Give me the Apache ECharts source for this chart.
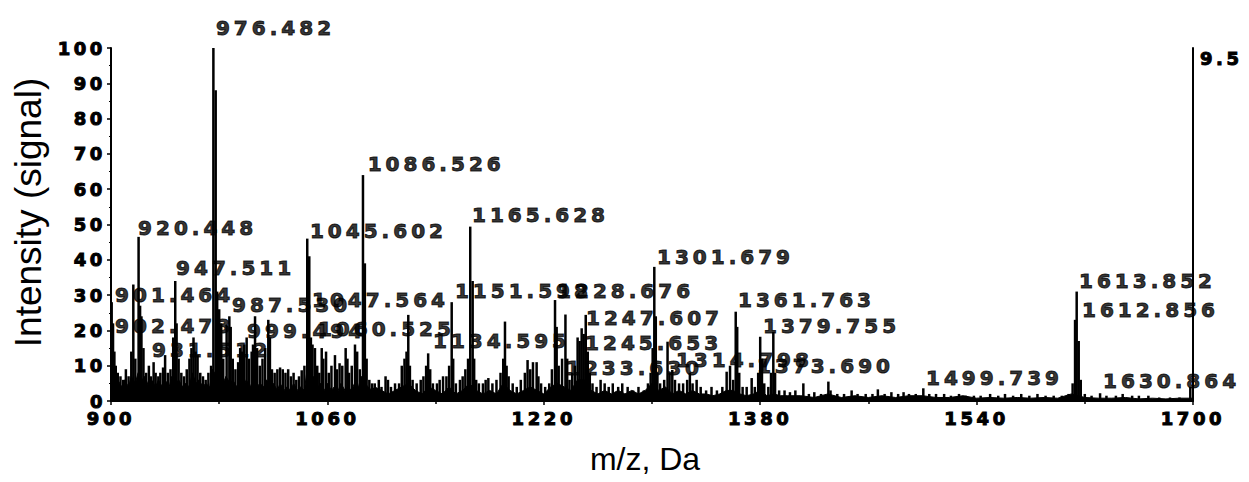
<!DOCTYPE html>
<html>
<head>
<meta charset="utf-8">
<title>Mass spectrum</title>
<script src="https://cdn.jsdelivr.net/npm/echarts@6.0.0/dist/echarts.min.js"></script>
<style>
  html, body { margin: 0; padding: 0; background: #fff; }
  #chart { width: 1249px; height: 482px; }
  /* the numbers in the figure are set wide */
  #chart text[style*="DejaVu"] { letter-spacing: 0.2em; }
</style>
</head>
<body>
<div id="chart"></div>
<script>
// stick peaks [m/z, relative intensity %]
const peaksLow = [
  [900.5, 28], [901.5, 22], [902.5, 14], [903.5, 10], [905, 8], [907, 7], [909, 6], [911, 9], [913, 7],
  [915, 14], [916.5, 33], [918, 12], [920.4, 46.5], [921.5, 27], [922.5, 24], [924, 15], [926, 8],
  [928, 10], [929.5, 7], [931.5, 11], [933, 8], [935, 7], [936.5, 8], [938.5, 9.5], [940, 13], [942, 8],
  [944, 9], [946, 18], [947.5, 34], [948.5, 22], [950, 12], [952, 8], [954, 7], [956, 9], [958, 12],
  [959.5, 15], [961, 18], [962.5, 14], [964, 13], [966, 8], [968, 7], [970, 6], [972, 8], [974, 10],
  [975.7, 100], [977.4, 88], [978.5, 31], [980, 26], [981.5, 22], [983, 12], [985.5, 21.5], [987.5, 24],
  [988.5, 21], [990, 12], [992, 9], [994, 11], [995.5, 15], [997, 14], [998.5, 16], [1000.3, 18],
  [1002, 12], [1004, 14], [1005, 16], [1006.5, 24], [1008, 15], [1010, 10], [1012, 12], [1014, 15],
  [1016.3, 23], [1017.5, 18], [1019, 9], [1021, 8], [1023, 9], [1025, 9.5], [1027, 9], [1029, 8],
  [1031, 9], [1033, 7], [1035, 8], [1037, 6], [1039, 7], [1041, 8.7], [1043, 10], [1045.1, 46],
  [1046.6, 41], [1047.8, 18], [1049, 16], [1050.8, 15], [1052.5, 10], [1054, 8], [1055.8, 15],
  [1057, 12], [1059, 14], [1061, 8], [1063, 10], [1065.6, 13], [1067, 9], [1069, 10.7], [1071, 10],
  [1073.5, 15], [1074.8, 12], [1076, 8], [1078, 10], [1080.4, 16], [1082, 14], [1084, 9],
  [1086.3, 64], [1087.7, 39], [1089, 12], [1091, 6], [1093, 5], [1095, 5], [1098, 6]
];
const peaksMid = [
  [1100, 4], [1103, 7], [1104.8, 6], [1107, 4], [1110, 5], [1113, 5], [1115, 10], [1117, 12],
  [1118.5, 14], [1119.8, 24.4], [1121, 10], [1123, 6], [1126, 5], [1129, 6], [1131, 7], [1133, 10],
  [1134.5, 13.5], [1136, 9], [1138, 5], [1141, 5], [1143, 6], [1145.5, 7], [1148, 7], [1150, 10],
  [1151.9, 28], [1153, 12], [1155, 5], [1158, 6], [1160, 7], [1162, 9], [1164, 12], [1165.6, 49.4],
  [1167.4, 34], [1168.5, 12], [1170, 6], [1172, 5], [1175, 5], [1177, 6], [1179, 6.5], [1182, 5],
  [1185, 6], [1188, 8], [1190, 12], [1191.3, 22.5], [1192.5, 10], [1194, 7], [1197, 5], [1200, 4],
  [1203, 6], [1206, 8], [1208, 11.6], [1210, 9], [1212, 11], [1214.7, 11], [1216, 7], [1218, 5],
  [1221, 4], [1224, 5], [1226, 9], [1228.3, 28.6], [1229.5, 21], [1231, 10], [1233.5, 12],
  [1236, 24.5], [1237.3, 12], [1239, 6], [1241, 8], [1243, 10], [1245, 18], [1246.5, 17],
  [1248, 20.6], [1249.5, 19], [1251, 24.4], [1252.5, 14], [1254, 8], [1256, 5], [1259, 4],
  [1262, 6], [1265, 5], [1268, 4], [1271, 5], [1275, 4], [1278, 5], [1282, 4], [1286, 3], [1290, 4],
  [1294, 3], [1297, 5], [1299, 8], [1300.5, 15], [1301.7, 38], [1302.8, 24], [1304, 8], [1306, 5],
  [1309, 6], [1311.5, 16.8], [1313, 8], [1315, 8.8], [1317, 6], [1320, 5], [1323, 5], [1326, 6],
  [1328, 8], [1330, 5], [1333, 6], [1336, 4], [1340, 3], [1344, 4], [1348, 3], [1352, 4],
  [1355.2, 8.3], [1357.7, 10], [1360, 6], [1361.9, 25.3], [1363, 21], [1364.5, 8], [1367, 4],
  [1370, 4], [1373.7, 6.5], [1376, 4], [1378.5, 8], [1380, 18.2], [1381.3, 12], [1383, 5],
  [1386, 4], [1388, 8], [1389.7, 19.6], [1391, 8], [1394, 3], [1398, 3]
];
const peaksHigh = [
  [1402, 2.5], [1406, 3], [1411.9, 5], [1416, 2], [1420, 2.5], [1425, 2], [1430.4, 5.5], [1432, 3],
  [1437, 2], [1442, 2], [1447.6, 3], [1452, 2], [1458, 2], [1463, 2], [1467, 3.3], [1472, 2],
  [1477, 2.5], [1482, 2], [1486, 2.5], [1490, 2], [1495, 2], [1500.6, 3.6], [1505, 2], [1510, 2],
  [1516, 2], [1521, 1.5], [1527, 2], [1532, 1.5], [1538, 1.5], [1543, 1.5], [1550, 2], [1556, 1.5],
  [1561, 2], [1567, 1.5], [1573, 2], [1579, 1.5], [1585, 2], [1591, 1.5], [1597, 1.5], [1603, 1.5],
  [1608, 2], [1611, 5], [1612.8, 23], [1614, 31], [1615.5, 17], [1617, 6], [1620, 2], [1625, 1.5],
  [1631.3, 2.2], [1636, 1.5], [1643, 1.5], [1648, 2], [1655, 1.5], [1660, 1.5], [1667, 1.5],
  [1675, 1], [1683, 1], [1690, 1], [1698, 4]
];

// dense chemical-noise floor under the sticks [m/z, intensity %]
const noise = [
  [900, 14], [902, 9], [905, 6], [908, 4], [910, 6], [913, 4], [915, 7], [918, 5], [920, 8], [923, 6],
  [925, 7], [928, 4], [930, 6], [933, 4], [935, 6], [938, 4], [940, 6], [943, 4], [945, 7], [948, 5],
  [950, 6], [953, 4], [955, 5], [958, 4], [960, 8], [963, 5], [965, 6], [968, 4], [970, 5], [973, 4],
  [975, 9], [978, 7], [980, 8], [983, 5], [985, 7], [988, 5], [990, 6], [993, 4], [995, 6], [998, 4],
  [1000, 6], [1003, 4], [1005, 6], [1008, 4], [1010, 5], [1013, 4], [1015, 6], [1018, 4], [1020, 5],
  [1023, 3], [1025, 5], [1028, 3], [1030, 4], [1033, 3], [1035, 5], [1038, 3], [1040, 4], [1043, 3],
  [1045, 9], [1048, 6], [1050, 7], [1053, 4], [1055, 5], [1058, 3], [1060, 5], [1063, 3], [1065, 4],
  [1068, 3], [1070, 5], [1073, 3], [1075, 4], [1078, 3], [1080, 5], [1083, 4], [1085, 7], [1088, 5],
  [1090, 4], [1093, 3], [1095, 4], [1100, 3], [1105, 2], [1110, 3], [1115, 4], [1120, 5], [1125, 3],
  [1130, 2], [1135, 4], [1140, 3], [1145, 2], [1150, 4], [1155, 2], [1160, 3], [1165, 5], [1170, 3],
  [1175, 2], [1180, 3], [1185, 2], [1190, 5], [1195, 3], [1200, 2], [1205, 3], [1210, 4], [1215, 3],
  [1220, 2], [1225, 4], [1230, 5], [1235, 4], [1240, 3], [1245, 6], [1250, 6], [1255, 3], [1260, 2],
  [1265, 3], [1270, 2], [1275, 3], [1280, 2], [1285, 3], [1290, 2], [1295, 3], [1300, 5], [1305, 3],
  [1310, 4], [1315, 2], [1320, 3], [1325, 2], [1330, 3], [1335, 2], [1340, 2], [1345, 1.5], [1350, 2],
  [1355, 3], [1360, 3], [1365, 2], [1370, 1.5], [1375, 2], [1380, 3], [1385, 1.5], [1390, 2],
  [1395, 1.5], [1400, 1.5], [1410, 1.5], [1420, 1], [1430, 2], [1440, 1], [1450, 1.5], [1460, 1],
  [1470, 1.5], [1480, 1], [1490, 1.5], [1500, 1.5], [1510, 1], [1520, 1], [1530, 1.5], [1540, 0.8],
  [1550, 1], [1560, 0.8], [1570, 1], [1580, 0.8], [1590, 1], [1600, 0.8], [1610, 2], [1620, 1],
  [1630, 0.8], [1640, 0.8], [1650, 1], [1660, 0.6], [1670, 0.8], [1680, 0.6], [1690, 0.8], [1700, 0.8]
];

// peak annotations: text, and where the text starts (m/z, intensity)
const labelText = ['976.482', '1086.526', '920.448', '1045.602', '1165.628', '947.511', '901.464',
  '902.473', '931.512', '987.530', '999.494', '1047.564', '1060.525', '1151.598', '1134.595',
  '1228.676', '1247.607', '1245.653', '1233.630', '1301.679', '1361.763', '1379.755', '1314.798',
  '1373.690', '1499.739', '1613.852', '1612.856', '1630.864'];
const labelX = [977.6, 1089.8, 920.0, 1047.1, 1166.9, 948.1, 903.0, 903.0, 930.3, 989.5, 1000.6,
  1048.6, 1053.0, 1154.3, 1138.1, 1229.8, 1251.2, 1250.5, 1236.4, 1303.7, 1363.6, 1382.1, 1317.7,
  1377.6, 1502.6, 1615.7, 1617.9, 1633.5];
const labelY = [105.7, 67.0, 49.0, 48.2, 52.7, 37.7, 30.0, 21.2, 14.4, 27.2, 19.8, 28.6, 20.4, 31.2,
  17.0, 31.2, 23.5, 16.4, 9.3, 40.8, 28.6, 21.2, 11.6, 9.9, 6.5, 34.0, 25.8, 5.7];

const NUM_FONT = 'DejaVu Sans';
const TITLE_FONT = 'Liberation Sans';
const numText = (size) => ({
  color: '#000', fontFamily: NUM_FONT, fontWeight: 'bold', fontSize: size,
  textBorderColor: '#000', textBorderWidth: 1,
});

const chart = echarts.init(document.getElementById('chart'), null, { renderer: 'svg' });
chart.setOption({
  animation: false,
  grid: { left: 111, right: 56, top: 48, bottom: 81, outerBoundsMode: 'none' },
  xAxis: {
    type: 'value', min: 900, max: 1700, interval: 160,
    name: 'm/z, Da', nameLocation: 'middle', nameGap: 42,
    nameTextStyle: { fontFamily: TITLE_FONT, fontSize: 32, color: '#000', padding: [0, 14, 0, 0] },
    axisLine: { lineStyle: { color: '#000', width: 2 } },
    axisTick: { length: 4, lineStyle: { color: '#000', width: 1.5 } },
    minorTick: { show: true, splitNumber: 2, length: 3, lineStyle: { color: '#000', width: 1.5 } },
    axisLabel: Object.assign({ margin: 8, formatter: v => String(v) }, numText(18)),
    splitLine: { show: false },
  },
  yAxis: [{
    type: 'value', min: 0, max: 100, interval: 10,
    name: 'Intensity (signal)', nameLocation: 'middle', nameGap: 64,
    nameTextStyle: { fontFamily: TITLE_FONT, fontSize: 37, color: '#000', padding: [0, 0, 0, 24] },
    axisLine: { show: true, lineStyle: { color: '#000', width: 2 } },
    axisTick: { show: true, length: 4, lineStyle: { color: '#000', width: 1.5 } },
    minorTick: { show: true, splitNumber: 2, length: 2, lineStyle: { color: '#000' } },
    axisLabel: Object.assign({ margin: 5 }, numText(18)),
    splitLine: { show: false },
  }, {
    type: 'value', min: 0, max: 100, position: 'right',
    name: '9.5', nameLocation: 'end', nameGap: -19,
    nameTextStyle: Object.assign({ align: 'left', padding: [0, 0, 0, 7] }, numText(18)),
    axisLine: { show: true, lineStyle: { color: '#000', width: 2 } },
    axisTick: { show: false }, axisLabel: { show: false }, splitLine: { show: false },
  }],
  series: [
    { type: 'line', data: noise, symbol: 'none', silent: true, z: 1,
      lineStyle: { color: '#000', width: 1 }, areaStyle: { color: '#000', opacity: 1 } },
    { type: 'bar', data: peaksLow.concat(peaksMid, peaksHigh), barWidth: 2.5, silent: true, z: 2,
      itemStyle: { color: '#000' } },
    { type: 'scatter', data: labelX.map((x, i) => [x, labelY[i]]), symbolSize: 0, clip: false,
      silent: true, z: 3,
      label: Object.assign({ show: true, position: 'right', distance: 0,
        formatter: p => labelText[p.dataIndex] }, numText(20)) },
  ],
});
</script>
</body>
</html>
